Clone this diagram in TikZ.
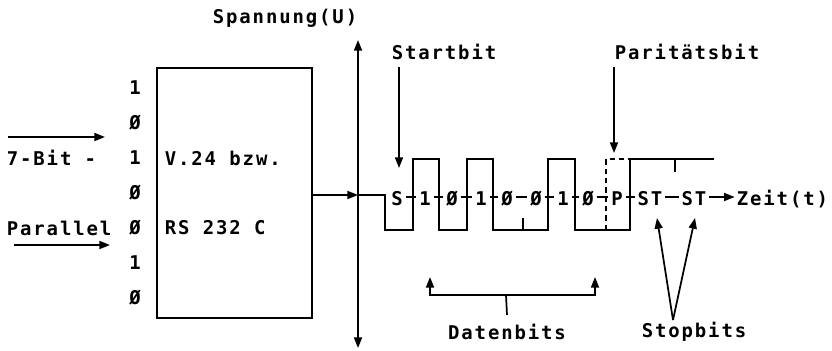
\documentclass[tikz,border=0pt]{standalone}
\usepackage{fontspec}
\newfontfamily\dm[LetterSpace=10]{DejaVu Sans Mono}
\usetikzlibrary{arrows.meta}
\begin{document}
\begin{tikzpicture}[x=0.75pt,y=-0.75pt,line width=1.3pt,
  lbl/.style={font=\dm\bfseries\fontsize{14.2}{15}\selectfont,inner sep=0pt},
  tip/.style={-{Triangle[length=8pt,width=6pt]}},
  dbltip/.style={{Triangle[length=8pt,width=6pt]}-{Triangle[length=8pt,width=6pt]}}]
\useasboundingbox (0,0) rectangle (832,350);
% title
\node[lbl] (spann) at (285,18) {Spannung(U)};
% converter box
\node[draw,minimum width=116.25pt,minimum height=187.5pt,inner sep=0pt] (box) at (234.5,193) {};
\node[lbl,anchor=west] (v24) at (164,158) {V.24 bzw.};
\node[lbl,anchor=west] (rs) at (164,228) {RS 232 C};
% bit column
\foreach \d/\y/\n in {1/88/a,Ø/123/b,1/158/c,Ø/193/d,Ø/228/e,1/263/f,Ø/298/g}
  \node[lbl] (d\n) at (135,\y) {\d};
% left labels and arrows
\node[lbl,anchor=west] (bit7) at (6,158) {7-Bit -};
\node[lbl,anchor=west] (par) at (6,228) {Parallel};
\coordinate (i1s) at (8,137);  \coordinate (i1e) at (105,137);
\coordinate (i2s) at (14,245); \coordinate (i2e) at (110,245);
\draw[tip] (i1s) -- (i1e);
\draw[tip] (i2s) -- (i2e);
% axis
\coordinate (axT) at (358,40);
\coordinate (axB) at (358,348);
\coordinate (ax0) at (358,195);
\coordinate (bo) at (312,195);
\draw[dbltip] (axT) -- (axB);
\draw[tip] (bo) -- (ax0);
% waveform
\draw (ax0) -- (385,195) -- (385,230) -- (413,230) -- (413,159) -- (439,159)
  -- (439,230) -- (467,230) -- (467,159) -- (493,159) -- (493,230)
  -- (548,230) -- (548,159) -- (575,159) -- (575,230) -- (630,230)
  -- (630,159) -- (714,159);
\draw[dashed,dash pattern=on 4pt off 3pt] (606,230) -- (606,159) -- (630,159);
\draw (523,230) -- (523,218);
\draw (675,159) -- (675,172);
% bit labels on the line
\coordinate (mid) at (0,197);
\foreach \t/\x/\n in {S/397/s,1/425/b1,Ø/452/b2,1/481/b3,Ø/507/b4,Ø/536/b5,1/563/b6,Ø/588/b7,P/617/p,ST/650/st1,ST/694/st2}
  \node[lbl,anchor=base] (\n) at (\x,205) {\t};
\foreach \a/\b in {s/b1,b1/b2,b2/b3,b3/b4,b4/b5,b5/b6,b6/b7,b7/p,p/st1,st1/st2}
  \draw[line width=1.1pt,shorten <=1.5pt,shorten >=1.5pt] (\a.east |- mid) -- (\b.west |- mid);
\node[lbl,anchor=base west] (zeit) at (736,205) {Zeit(t)};
\draw[tip,shorten <=1pt,shorten >=1pt] (st2.east |- mid) -- (zeit.west |- mid);
% Startbit
\node[lbl] (start) at (444,52) {Startbit};
\coordinate (sA) at (399,67); \coordinate (sB) at (399,168);
\draw[tip] (sA) -- (sB);
% Paritaetsbit
\node[lbl] (par2) at (687,52) {Paritätsbit};
\coordinate (pA) at (614,67); \coordinate (pB) at (614,153);
\draw[tip] (pA) -- (pB);
% Datenbits
\node[lbl] (daten) at (507,332) {Datenbits};
\coordinate (dm) at (506,295);
\coordinate (dl) at (430,277);
\coordinate (dr) at (595,277);
\draw[tip] (dm) -| (dl);
\draw[tip] (dm) -| (dr);
\draw (dm) -- (daten.north |- 0,315);
% Stopbits
\node[lbl] (stop) at (694,332) {Stopbits};
\coordinate (sv) at (673,320);
\coordinate (st1a) at (657,218);
\coordinate (st2a) at (695,218);
\draw[tip] (sv) -- (st1a);
\draw[tip] (sv) -- (st2a);
\end{tikzpicture}
\end{document}
